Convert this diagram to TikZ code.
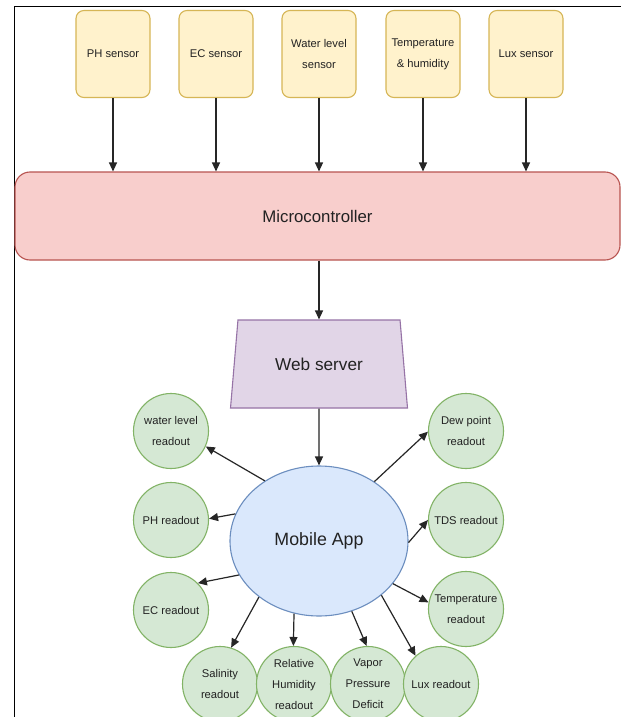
\documentclass[tikz,border=0pt]{standalone}
\usepackage{fontspec}
\setmainfont{Liberation Sans}
\usetikzlibrary{shapes.geometric,arrows.meta}
\definecolor{sfill}{HTML}{FFF2CC}\definecolor{sdraw}{HTML}{D6B656}
\definecolor{mfill}{HTML}{F8CECC}\definecolor{mdraw}{HTML}{B85450}
\definecolor{wfill}{HTML}{E1D5E7}\definecolor{wdraw}{HTML}{9673A6}
\definecolor{afill}{HTML}{DAE8FC}\definecolor{adraw}{HTML}{6C8EBF}
\definecolor{rfill}{HTML}{D5E8D4}\definecolor{rdraw}{HTML}{82B366}
\definecolor{txt}{HTML}{222222}
\tikzset{
  sensor/.style={draw=sdraw,fill=sfill,line width=1.1pt,rounded corners=8pt,minimum width=74pt,minimum height=87pt,inner sep=0pt,align=center,text=txt,font=\fontsize{11.2}{21}\selectfont},
  readout/.style={circle,draw=rdraw,fill=rfill,line width=1.1pt,minimum size=75pt,inner sep=0pt,align=center,text=txt,font=\fontsize{11.2}{21}\selectfont},
  arr/.style={draw=black!85,line width=1.2pt,-{Triangle[length=9pt,width=8pt]}},
}
\begin{document}
\begin{tikzpicture}[x=1pt,y=-1pt]
\useasboundingbox (0,0) rectangle (621,717);
\fill[white] (0,0) rectangle (621,717);
\draw[black,line width=1pt] (14,717) -- (14,7) -- (621,7);
% sensors
\node[sensor] (ph) at (113,54) {PH sensor};
\node[sensor] (ec) at (216,54) {EC sensor};
\node[sensor] (wl) at (319,54) {Water level\\sensor};
\node[sensor] (th) at (423,54) {Temperature\\\& humidity};
\node[sensor] (lux) at (526,54) {Lux sensor};
% microcontroller
\node[draw=mdraw,fill=mfill,line width=1.1pt,rounded corners=15pt,minimum width=605pt,minimum height=88pt,inner sep=0pt,text=txt,font=\fontsize{16.8}{20}\selectfont] (mc) at (317.5,216) {Microcontroller};
\foreach \s in {ph,ec,wl,th,lux}{\draw[arr] (\s.south) -- (\s.south |- mc.north);}
% web server
\node[trapezium,trapezium left angle=72.3,trapezium right angle=72.3,trapezium stretches=true,minimum width=178pt,minimum height=88pt,inner sep=0pt,draw=wdraw,fill=wfill,line width=1.1pt,text=txt,font=\fontsize{17.2}{20}\selectfont] (ws) at (319,364) {Web server};
\draw[arr] (ws.north |- mc.south) -- (ws.north);
% app
\node[ellipse,draw=adraw,fill=afill,line width=1.1pt,minimum width=178pt,minimum height=150pt,inner sep=0pt,text=txt,font=\fontsize{17.8}{20}\selectfont] (app) at (319,541) {Mobile App};
\draw[arr] (ws.south) -- (app.north);
% readouts
\node[readout] (rwl) at (171,431) {water level\\readout};
\node[readout] (rph) at (171,520) {PH readout};
\node[readout] (rec) at (171,610) {EC readout};
\node[readout] (rdp) at (466,431) {Dew point\\readout};
\node[readout] (rtds) at (466,520) {TDS readout};
\node[readout] (rtmp) at (466,609) {Temperature\\readout};
\node[readout] (rsal) at (220,684) {Salinity\\readout};
\node[readout] (rrh) at (294,684) {Relative\\Humidity\\readout};
\node[readout] (rvpd) at (368,684) {Vapor\\Pressure\\Deficit};
\node[readout] (rlux) at (441,684) {Lux readout};
\draw[arr] (app.132) -- (rwl.336);
\draw[arr] (app.162) -- (rph.2);
\draw[arr] (app.203) -- (rec.45);
\draw[arr] (app.223) -- (rsal.73);
\draw[arr] (app.251) -- (rrh.91);
\draw[arr] (app.295) -- (rvpd.92);
\draw[arr] (app.319) -- (rlux.132);
\draw[arr] (app.330) -- (rtmp.170);
\draw[arr] (app.359) -- (rtds.180);
\draw[arr] (app.47) -- (rdp.181);
\end{tikzpicture}
\end{document}
